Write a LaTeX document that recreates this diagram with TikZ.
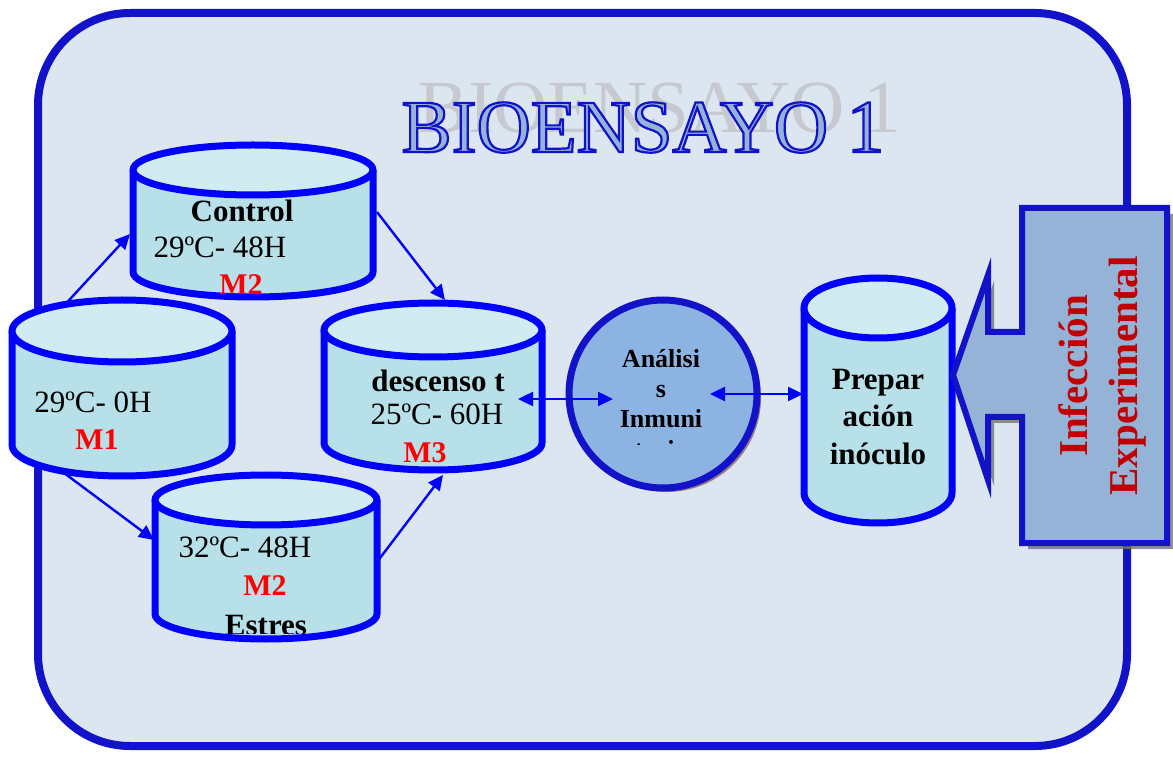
\documentclass[tikz,border=0pt]{standalone}
\usepackage{fontspec}
\setmainfont{Liberation Serif}
\usetikzlibrary{positioning,shapes.geometric,arrows.meta,shadows}
\definecolor{framefill}{RGB}{220,230,241}
\definecolor{frameblue}{RGB}{18,18,200}
\definecolor{tankblue}{RGB}{0,0,255}
\definecolor{tankwater}{RGB}{184,224,233}
\definecolor{tanklid}{RGB}{208,236,242}
\definecolor{circfill}{RGB}{141,179,226}
\definecolor{circshade}{RGB}{150,122,132}
\definecolor{calloutfill}{RGB}{149,179,215}
\definecolor{labelred}{RGB}{255,0,0}
\definecolor{darkred}{RGB}{192,0,0}
\definecolor{titlegray}{RGB}{198,202,208}
% letras con contorno azul (modo de trazo 2)
\newcommand{\outlined}[1]{\special{pdf:literal direct 0.07 0.07 0.78 RG 2.2 w 2 Tr}#1\special{pdf:literal direct 0 Tr}}
\tikzset{
    frame/.style={draw=frameblue, line width=8pt, fill=framefill, rounded corners=92pt},
    tankwall/.style={draw=tankblue, line width=7pt, line join=round},
    titletext/.style={anchor=base, inner sep=0pt, font=\fontsize{75}{80}\selectfont},
    % textos dentro de los tanques
    tanktext/.style={anchor=base, inner sep=0pt, font=\fontsize{31}{37}\selectfont},
    tankhead/.style={anchor=base, inner sep=0pt, font=\fontsize{31}{37}\selectfont\bfseries},
    mlabel/.style={anchor=base, inner sep=0pt, font=\fontsize{30}{36}\selectfont\bfseries, text=labelred},
    circtext/.style={anchor=base, inner sep=0pt, font=\fontsize{26}{30}\selectfont\bfseries},
    analysis/.style={circle, draw=frameblue, line width=7pt, fill=circfill, minimum size=188pt,
                     inner sep=0pt, outer sep=0pt,
                     drop shadow={shadow xshift=4pt, shadow yshift=-4pt, fill=circshade, opacity=1}},
    callout/.style={draw=frameblue, line width=6pt, fill=calloutfill, line join=miter,
                    drop shadow={shadow xshift=6pt, shadow yshift=-6pt, fill=black!55, opacity=0.8}},
    link/.style={draw=tankblue, line width=2.4pt, -{Triangle[length=15pt,width=14pt]}},
    dlink/.style={link, {Triangle[length=15pt,width=14pt]}-{Triangle[length=15pt,width=14pt]}}
}
% tanque: nombre, x centro, y tapa, y fondo, radio x, radio y
\newcommand{\tank}[6]{%
    \node[ellipse, minimum width=2*#5, minimum height=2*#6, inner sep=0pt, outer sep=0pt] (#1-top) at (#2,#3) {};
    \node[ellipse, minimum width=2*#5, minimum height=2*#6, inner sep=0pt, outer sep=0pt] (#1-bot) at (#2,#4) {};
    \node[rectangle, minimum width=2*#5, minimum height=#3-#4, inner sep=0pt, outer sep=0pt] (#1) at (#2,{(#3+#4)/2}) {};
    \fill[tankwater] (#1.north west) -- (#1.south west) arc[start angle=180, end angle=360, x radius=#5, y radius=#6] -- (#1.north east) -- cycle;
    \draw[tankwall] (#1.north west) -- (#1.south west) arc[start angle=180, end angle=360, x radius=#5, y radius=#6] -- (#1.north east);
    \draw[tankwall, fill=tanklid] (#1-top.center) ellipse[x radius=#5, y radius=#6];
}

\begin{document}
\begin{tikzpicture}[x=1pt,y=1pt]
    \useasboundingbox (0,0) rectangle (1173,756);

    % Marco
    \draw[frame] (38,10) rectangle (1127,743);

    % Titulo
    \node[titletext, text=titlegray] (title-shadow) at (660,623) {BIOENSAYO 1};
    \node[titletext, text=calloutfill] (title) at (643,604) {\outlined{BIOENSAYO 1}};

    % Tanques
    \tank{m1}{122}{425}{311}{110}{31}
    \tank{ctrl}{253}{586}{484}{120}{25}
    \tank{desc}{433}{426}{313}{109}{27}
    \tank{est}{266}{256}{142}{111}{25}
    \tank{prep}{878}{448}{263}{74}{30}

    % M1
    \node[tanktext] (m1-temp) at (93,343) {29ºC- 0H};
    \node[mlabel] (m1-code) at (97,306) {M1};
    % Control
    \node[tankhead] (ctrl-name) at (242,534) {Control};
    \node[tanktext] (ctrl-temp) at (220,498) {29ºC- 48H};
    \node[mlabel] (ctrl-code) at (241,461) {M2};
    % Descenso
    \node[tankhead] (desc-name) at (438,364) {descenso t};
    \node[tanktext] (desc-temp) at (437,331) {25ºC- 60H};
    \node[mlabel] (desc-code) at (425,294) {M3};
    % Estres
    \node[tanktext] (est-temp) at (245,199) {32ºC- 48H};
    \node[mlabel] (est-code) at (265,161) {M2};
    \begin{scope}
        \clip (140,123) rectangle (390,160);
        \node[tankhead] (est-name) at (266,121) {Estres};
    \end{scope}
    % Preparacion
    \foreach \word/\yy [count=\i] in {Prepar/366, ación/329, inóculo/291}
        \node[tankhead] (prep-l\i) at (878,\yy) {\word};

    % Analisis
    \node[analysis] (circ) at (663,362) {};
    \foreach \word/\yy [count=\i] in {Análisi/388, s/358, Inmuni/328}
        \node[circtext] (circ-l\i) at (661,\yy) {\word};
    \begin{scope}
        \clip (570,311) rectangle (750,325);
        \node[circtext] (circ-l4) at (661,297) {tario};
    \end{scope}

    % Infeccion experimental
    \draw[callout] (1022,548) -- (1167,548) -- (1167,213) -- (1022,213) -- (1022,339) -- (988,339)
        -- (988,276) -- (953,381) -- (988,481) -- (988,424) -- (1022,424) -- cycle;
    \node[rotate=90, align=center, inner sep=0pt, text=darkred,
          font=\fontsize{41}{50}\selectfont\bfseries] (infeccion) at (1102,380) {Infección\\Experimental};

    % Flechas
    \draw[link] (m1-top.155) -- ([xshift=-3pt,yshift=-13pt]ctrl.west);
    \draw[link] ([xshift=4pt,yshift=9pt]ctrl.east) -- ([xshift=12pt,yshift=3pt]desc-top.north);
    \draw[link] (m1-bot.203) -- ([xshift=-1pt,yshift=17pt]est.west);
    \draw[link] ([yshift=-5pt]est.east) -- ([xshift=10pt,yshift=-5pt]desc-bot.south);
    \draw[dlink] ([xshift=-24pt,yshift=-12.5pt]desc.east) -- ([xshift=44pt,yshift=-5pt]circ.west);
    \draw[dlink] ([xshift=-47pt]circ.east) -- ([xshift=-1pt,yshift=6.5pt]prep.west);
\end{tikzpicture}
\end{document}
